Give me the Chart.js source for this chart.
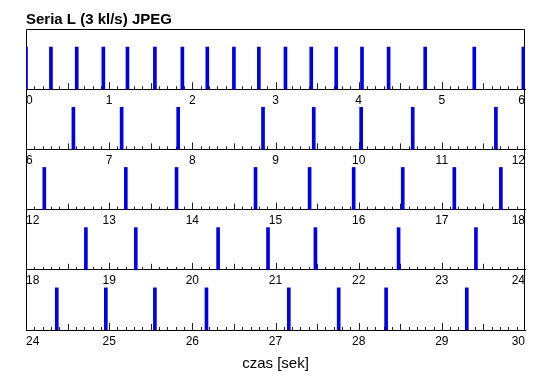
<!DOCTYPE html>
<html>
<head>
<meta charset="utf-8">
<script src="https://cdn.jsdelivr.net/npm/chart.js@4"></script>
<style>
  body { margin: 0; background: #fff; }
  #wrap { width: 550px; height: 389px; }
</style>
</head>
<body>
<div id="wrap"><canvas id="c" width="550" height="389"></canvas></div>
<script>
// czasy klatek (sekundy), po jednym wierszu na 6 s
const row1 = [0.0, 0.30, 0.61, 0.93, 1.22, 1.55, 1.88, 2.18, 2.50, 2.80, 3.12, 3.43, 3.73, 4.04, 4.36, 4.80, 5.39, 5.98];
const row2 = [6.57, 7.15, 7.83, 8.85, 9.46, 10.03, 10.65, 11.65];
const row3 = [12.22, 13.20, 13.81, 14.76, 15.41, 15.94, 16.53, 17.15, 17.71];
const row4 = [18.72, 19.32, 20.31, 20.91, 21.48, 22.48, 23.41];
const row5 = [24.37, 24.96, 25.55, 26.17, 27.16, 27.76, 28.33, 29.30];
const rows = [row1, row2, row3, row4, row5];
const rowStart = [0, 6, 12, 18, 24];
const rowLength = 6;
const barHeight = 0.7;

const title = "Seria L (3 kl/s) JPEG";
const xTitle = "czas [sek]";

const FONT = "'Liberation Sans', Arial, sans-serif";

const datasets = [];
const scales = {
  y: { display: false, min: 0, max: rows.length }
};

rows.forEach((times, i) => {
  const level = rows.length - 1 - i;
  datasets.push({
    data: times.map(t => ({ x: t, y: [level, level + barHeight] })),
    xAxisID: "x" + i,
    yAxisID: "y",
    backgroundColor: "#0000e0",
    borderWidth: 0,
    barThickness: 3,
    grouped: false
  });
  scales["x" + i] = {
    type: "linear",
    position: { y: level },
    offset: false,
    min: rowStart[i],
    max: rowStart[i] + rowLength,
    grid: { display: false, drawTicks: false, offset: false },
    border: { display: true, color: "#000", width: 1 },
    ticks: {
      stepSize: 1,
      align: "inner",
      padding: 4,
      color: "#000",
      font: { family: FONT, size: 12 }
    }
  };
});

// ramka + drobne kreski podziałki (co 0.1 s) rysowane ze skal
const ticksPlugin = {
  id: "minorTicks",
  beforeDatasetsDraw(chart) {
    const ctx = chart.ctx;
    const area = chart.chartArea;
    ctx.save();
    ctx.strokeStyle = "#222";
    ctx.lineWidth = 1;
    rows.forEach((_, i) => {
      const sx = chart.scales["x" + i];
      const yPix = chart.scales.y.getPixelForValue(rows.length - 1 - i);
      for (let k = 1; k < rowLength * 10; k++) {
        const v = rowStart[i] + k / 10;
        const xPix = Math.round(sx.getPixelForValue(v)) + 0.5;
        let len = 3;
        if (k % 10 === 0) len = 7;
        else if (k % 5 === 0) len = 6;
        ctx.beginPath();
        ctx.moveTo(xPix, yPix);
        ctx.lineTo(xPix, yPix - len);
        ctx.stroke();
      }
    });
    ctx.strokeStyle = "#000";
    ctx.beginPath();
    ctx.moveTo(area.left + 0.5, area.bottom);
    ctx.lineTo(area.left + 0.5, area.top + 0.5);
    ctx.lineTo(area.right - 0.5, area.top + 0.5);
    ctx.lineTo(area.right - 0.5, area.bottom);
    ctx.stroke();
    ctx.restore();
  }
};

new Chart(document.getElementById("c"), {
  type: "bar",
  data: { datasets: datasets },
  options: {
    responsive: false,
    animation: false,
    layout: { padding: { left: 26, right: 25, top: 0, bottom: 0 } },
    plugins: {
      legend: { display: false },
      tooltip: { enabled: false },
      title: {
        display: true,
        text: title,
        align: "start",
        fullSize: false,
        color: "#000",
        font: { family: FONT, size: 15, weight: "bold" },
        padding: { top: 11, bottom: 0 }
      },
      subtitle: {
        display: true,
        text: xTitle,
        position: "bottom",
        color: "#000",
        font: { family: FONT, size: 15, weight: "normal" },
        padding: { top: 25, bottom: 16 }
      }
    },
    scales: scales
  },
  plugins: [ticksPlugin]
});
</script>
</body>
</html>
